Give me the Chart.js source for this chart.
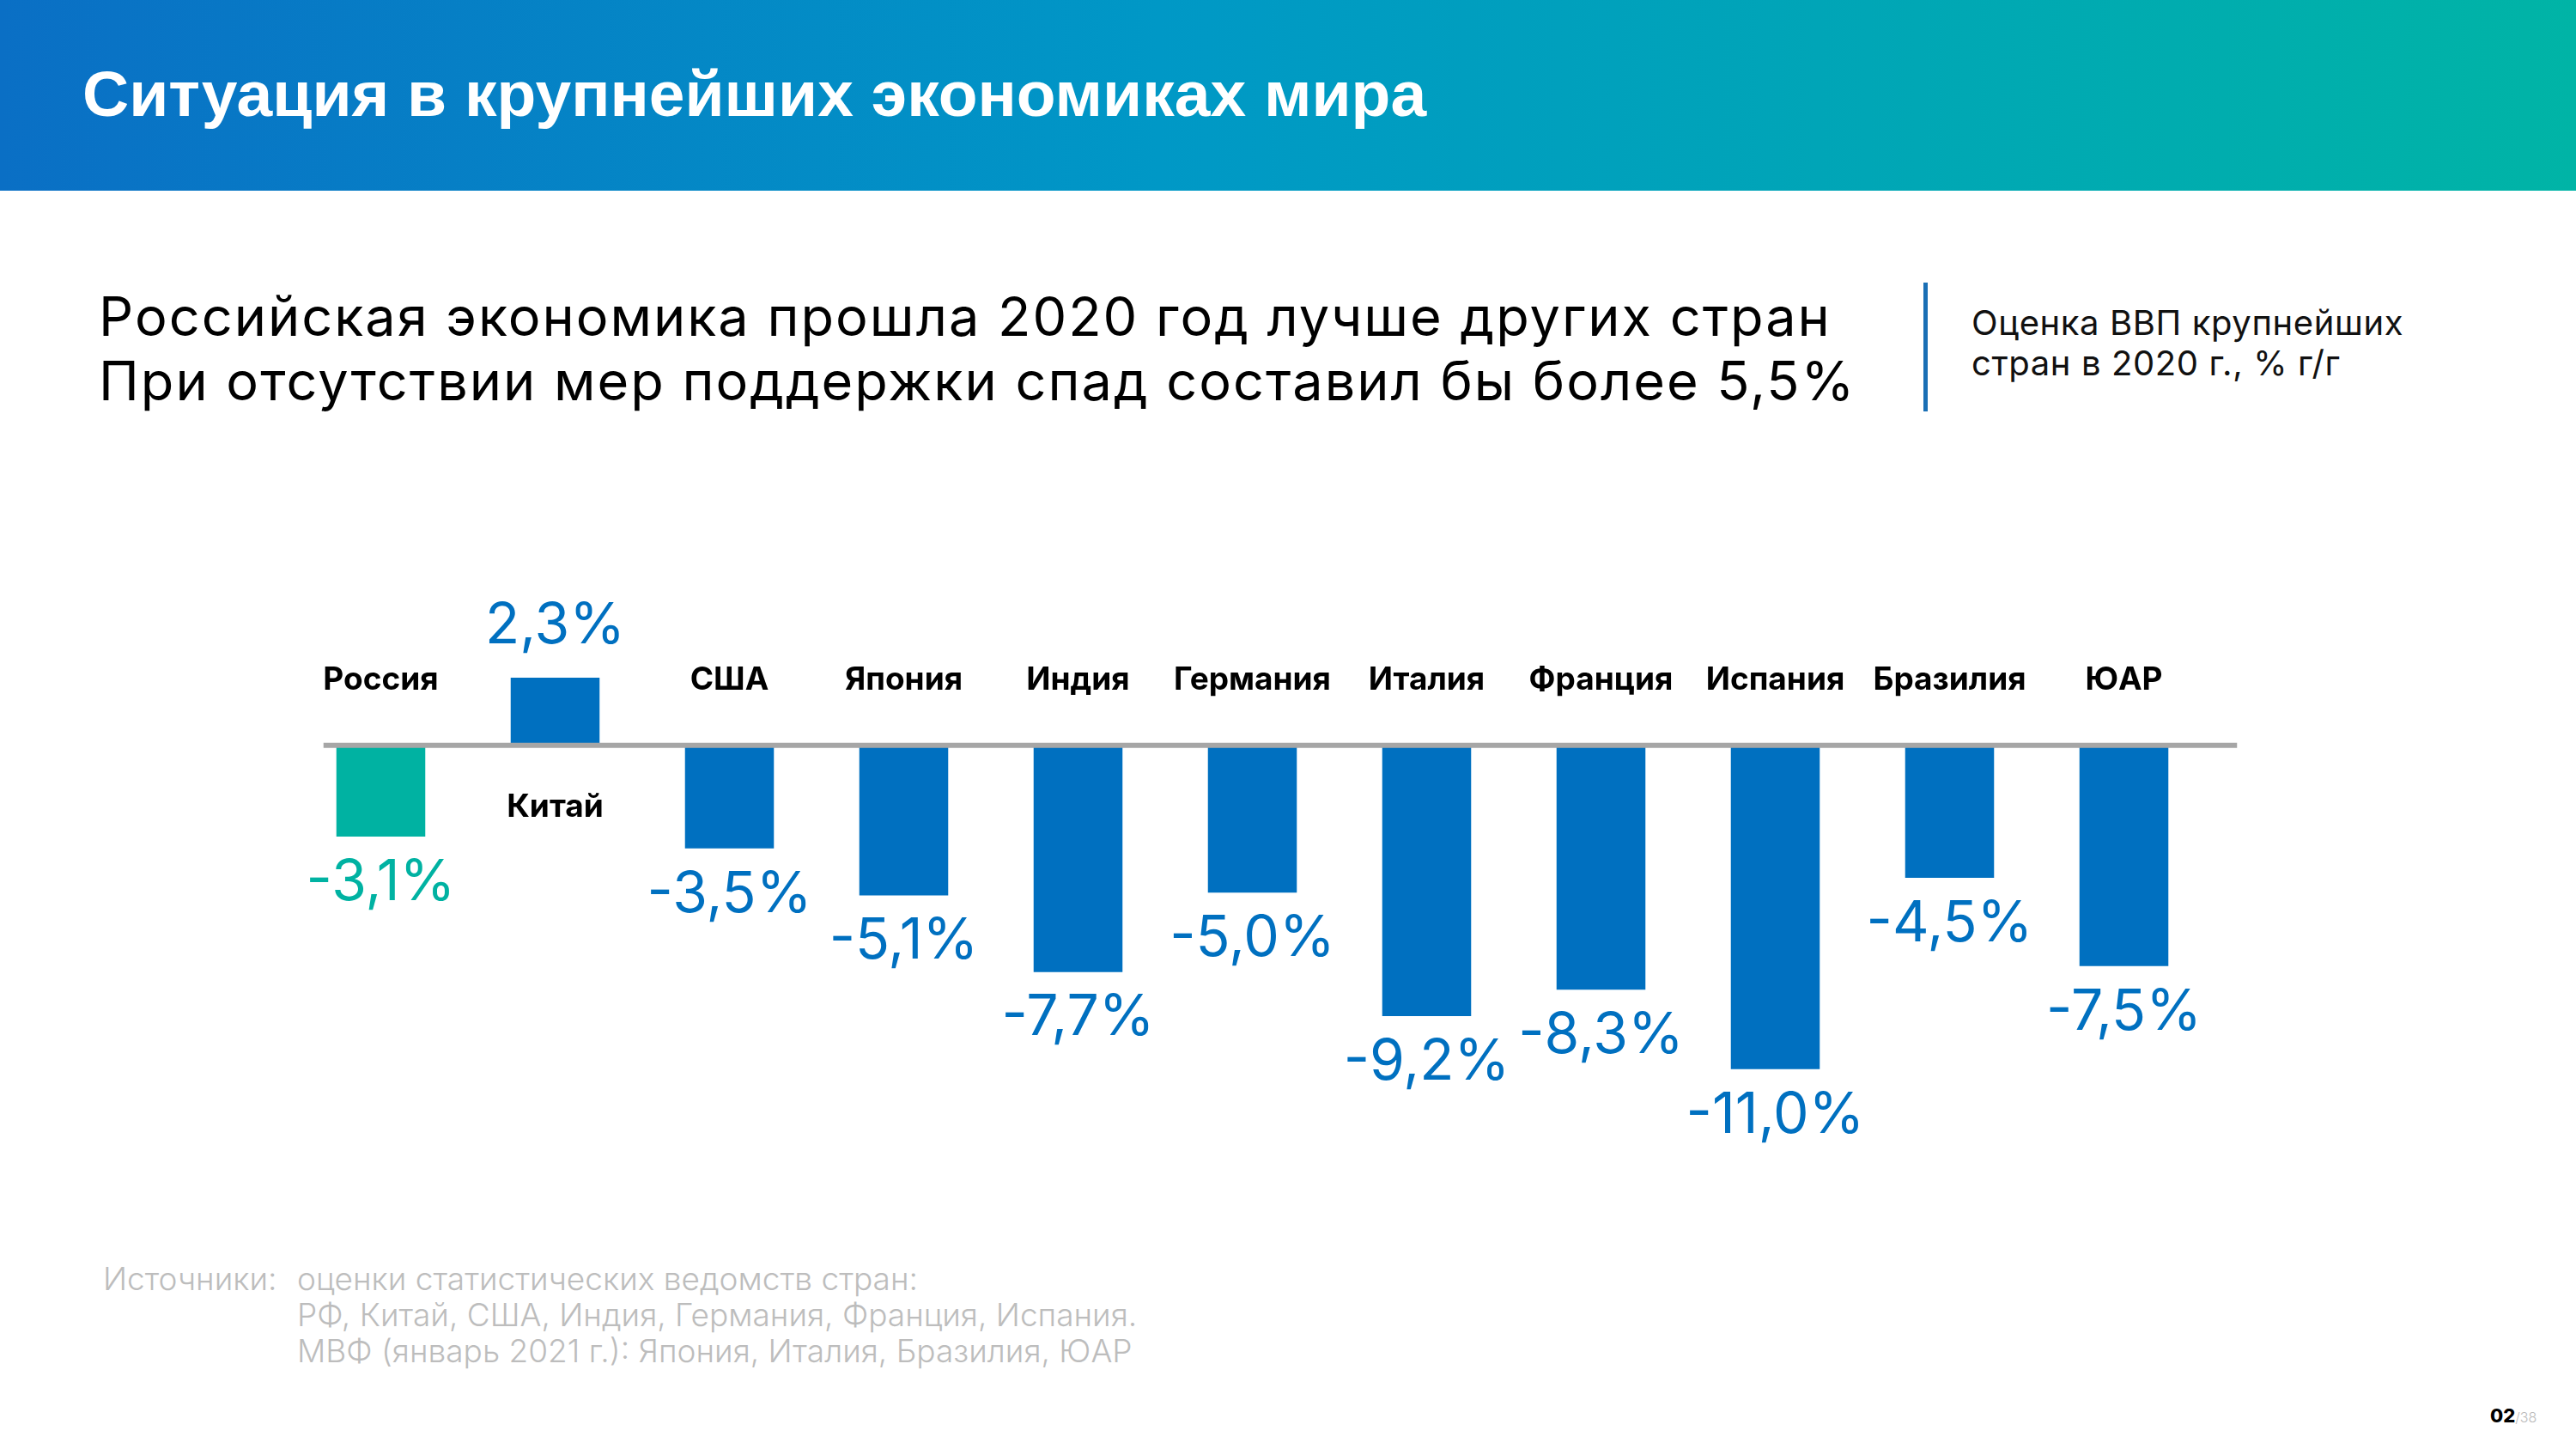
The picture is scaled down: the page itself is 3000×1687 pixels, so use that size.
<!DOCTYPE html>
<html>
<head>
<meta charset="utf-8">
<script src="https://cdn.jsdelivr.net/npm/chart.js@4"></script>
<style>
  body { margin: 0; background: #fff; font-family: Inter, sans-serif; }
  #page { position: relative; width: 3000px; height: 1687px; overflow: hidden; }
  #head { position: absolute; left: 0; top: 0; width: 3000px; height: 222px;
          background: linear-gradient(90deg, #0a6fc5 0%, #0098c6 45%, #00b4a6 100%); }
  #head h1 { position: absolute; left: 96px; top: 66px; margin: 0; color: #fff;
             font: bold 75px "Liberation Sans", Arial, sans-serif; }
  .sub { position: absolute; left: 115px; font-size: 63px; letter-spacing: 2px; color: #000; white-space: nowrap; }
  #divider { position: absolute; left: 2240px; top: 329px; width: 5px; height: 150px; background: #1a6fb5; }
  #side { position: absolute; left: 2296px; top: 352px; font-size: 40px; letter-spacing: 0.6px; line-height: 47px; color: #111; }
  #notes { position: absolute; left: 120px; top: 1468px; font-size: 37px; font-weight: 300;
           line-height: 42px; color: #bdbdbd; }
  #notes span { display: inline-block; width: 226px; }
  #notes .ind { padding-left: 226px; }
  #pg { position: absolute; left: 2900px; top: 1635px; font-size: 22px; }
  #pg b { color: #000; font-weight: 800; }
  #pg i { font-style: normal; color: #bbb; font-size: 16px; font-weight: 300; }
  canvas { position: absolute; left: 0; top: 0; }
</style>
</head>
<body>
<div id="page">
  <div id="head"><h1>Ситуация в крупнейших экономиках мира</h1></div>
  <div class="sub" style="top:330px">Российская экономика прошла 2020 год лучше других стран</div>
  <div class="sub" style="top:405px">При отсутствии мер поддержки спад составил бы более 5,5%</div>
  <div id="divider"></div>
  <div id="side">Оценка ВВП крупнейших<br>стран в 2020 г., % г/г</div>
  <div id="notes">
    <div><span>Источники:</span>оценки статистических ведомств стран:</div>
    <div class="ind">РФ, Китай, США, Индия, Германия, Франция, Испания.</div>
    <div class="ind">МВФ (январь 2021 г.): Япония, Италия, Бразилия, ЮАР</div>
  </div>
  <div id="pg"><b>02</b><i>/38</i></div>
  <canvas id="gdp" width="3000" height="1687"></canvas>
</div>
<script>
var countries = ['Россия', 'Китай', 'США', 'Япония', 'Индия', 'Германия', 'Италия', 'Франция', 'Испания', 'Бразилия', 'ЮАР'];
var gdp2020 = [-3.1, 2.3, -3.5, -5.1, -7.7, -5.0, -9.2, -8.3, -11.0, -4.5, -7.5];

var blue = '#0070c0';
var teal = '#00b2a2';
var barColors = countries.map(function(c, i) { return i === 0 ? teal : blue; });

function fmt(v) {
    return v.toFixed(1).replace('.', ',') + '%';
}

var labelsPlugin = {
    id: 'barLabels',
    afterDatasetsDraw: function(chart) {
        var ctx = chart.ctx;
        var meta = chart.getDatasetMeta(0);
        var y0 = chart.scales.y.getPixelForValue(0);
        var first = meta.data[0], last = meta.data[meta.data.length - 1];

        // zero line
        ctx.save();
        ctx.strokeStyle = '#a6a6a6';
        ctx.lineWidth = 6;
        ctx.beginPath();
        ctx.moveTo(first.x - first.width / 2 - 15, y0);
        ctx.lineTo(last.x + last.width / 2 + 80, y0);
        ctx.stroke();

        ctx.textAlign = 'center';
        ctx.textBaseline = 'middle';
        meta.data.forEach(function(bar, i) {
            var v = gdp2020[i];
            ctx.fillStyle = barColors[i];
            ctx.font = '400 66px Inter';
            if (v < 0) {
                ctx.fillText(fmt(v), bar.x, bar.y + 54);
            } else {
                ctx.fillText(fmt(v), bar.x, bar.y - 60);
            }
            ctx.fillStyle = '#000';
            ctx.font = 'bold 37px Inter';
            ctx.fillText(countries[i], bar.x, v < 0 ? y0 - 76 : y0 + 72);
        });
        ctx.restore();
    }
};

new Chart(document.getElementById('gdp'), {
    type: 'bar',
    data: {
        labels: countries,
        datasets: [{
            data: gdp2020,
            backgroundColor: barColors,
            categoryPercentage: 1,
            barPercentage: 0.51
        }]
    },
    options: {
        responsive: false,
        animation: false,
        layout: { padding: { left: 342, right: 425, top: 765, bottom: 408 } },
        scales: {
            x: { display: false },
            y: { display: false, min: -12, max: 3 }
        },
        plugins: { legend: { display: false }, tooltip: { enabled: false } }
    },
    plugins: [labelsPlugin]
});
</script>
</body>
</html>
